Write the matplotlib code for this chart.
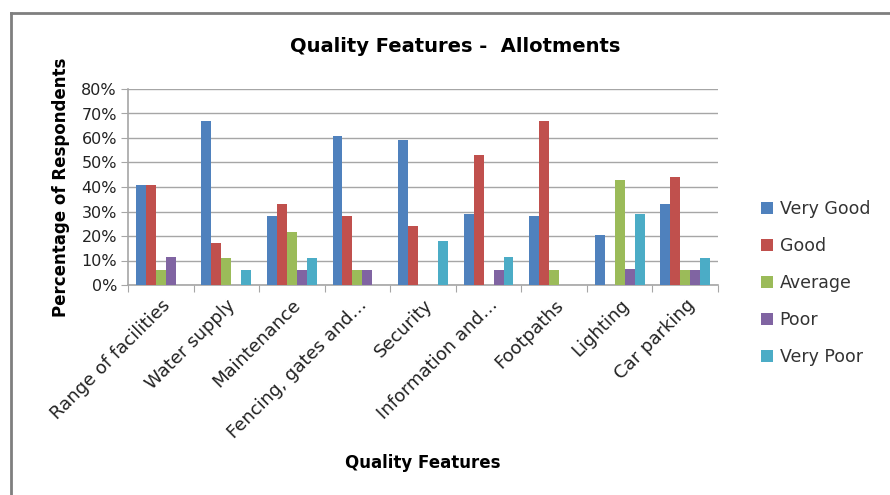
import numpy as np
import matplotlib.pyplot as plt
from matplotlib.lines import Line2D

categories = ["Range of facilities", "Water supply", "Maintenance",
              "Fencing, gates and\u2026", "Security", "Information and\u2026",
              "Footpaths", "Lighting", "Car parking"]
series_names = ["Very Good", "Good", "Average", "Poor", "Very Poor"]
very_good = [41, 67, 28, 61, 59, 29, 28, 20.5, 33]
good = [41, 17, 33, 28, 24, 53, 67, 0, 44]
average = [6, 11, 21.5, 6, 0, 0, 6, 43, 6]
poor = [11.5, 0, 6, 6, 0, 6, 0, 6.5, 6]
very_poor = [0, 6, 11, 0, 18, 11.5, 0, 29, 11]
colors = ["#4F81BD", "#C0504D", "#9BBB59", "#8064A2", "#4BACC6"]


def main():
    plt.rcParams["font.family"] = "DejaVu Sans"
    fig = plt.figure(figsize=(8.9, 4.95), dpi=100)
    W, H = 890, 495
    ax = fig.add_axes([128 / W, 1 - 285 / H, 590 / W, 196 / H])

    data = [very_good, good, average, poor, very_poor]
    x = np.arange(len(categories))
    bw = 0.152
    for i, (vals, name, c) in enumerate(zip(data, series_names, colors)):
        ax.bar(x + (i - 2) * bw, vals, bw, color=c, label=name, zorder=3)

    ax.set_xlim(-0.5, len(categories) - 0.5)
    ax.set_ylim(0, 80)
    ax.set_yticks(range(0, 81, 10))
    ax.set_yticklabels([f"{v}%" for v in range(0, 81, 10)], fontsize=11.5,
                       color="#222222")
    ax.yaxis.grid(True, color="#a6a6a6", linewidth=1.0, zorder=0)
    ax.tick_params(axis="y", length=5, color="#a6a6a6", pad=3)

    ax.set_xticks(np.arange(-0.5, len(categories), 1.0))
    ax.set_xticklabels([])
    ax.tick_params(axis="x", length=5, color="#a6a6a6")
    ax.set_xticks(x, minor=True)
    ax.set_xticklabels(categories, minor=True, rotation=45, ha="right",
                       rotation_mode="anchor", fontsize=13, color="#222222")
    ax.tick_params(axis="x", which="minor", length=0, pad=8)

    for s in ["top", "right"]:
        ax.spines[s].set_visible(False)
    for s in ["left", "bottom"]:
        ax.spines[s].set_color("#a6a6a6")
        ax.spines[s].set_linewidth(1.2)

    ax.set_ylabel("Percentage of Respondents", fontsize=12, fontweight="bold",
                  labelpad=8)
    fig.text(423 / W, 1 - 463 / H, "Quality Features", fontsize=12,
             fontweight="bold", ha="center", va="center")
    fig.text(455 / W, 1 - 47 / H, "Quality Features -  Allotments", fontsize=14,
             fontweight="bold", ha="center", va="center")

    ax.legend(loc="center left", bbox_to_anchor=(745 / W, 1 - 283 / H),
              bbox_transform=fig.transFigure, frameon=False, fontsize=12.5,
              handlelength=0.7, handleheight=0.7, handletextpad=0.4,
              labelspacing=1.1, labelcolor="#333333")

    # chart frame (top and left edges)
    fig.add_artist(Line2D([11 / W, 1.0], [1 - 13 / H, 1 - 13 / H],
                          color="#7f7f7f", linewidth=2))
    fig.add_artist(Line2D([11 / W, 11 / W], [0, 1 - 13 / H],
                          color="#7f7f7f", linewidth=2))

    fig.savefig("out.png", dpi=100)


if __name__ == "__main__":
    main()
